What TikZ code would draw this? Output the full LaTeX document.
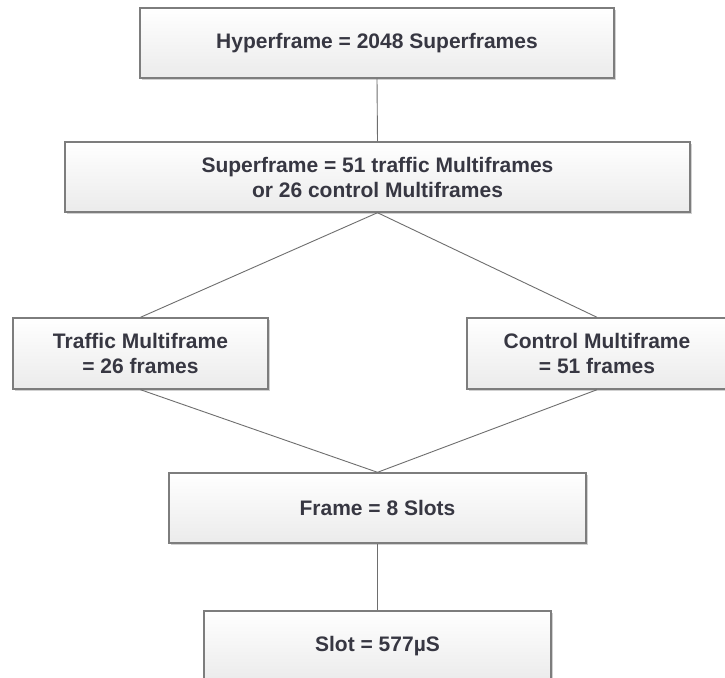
\documentclass[tikz,border=0pt]{standalone}
\usepackage{fontspec}
\setmainfont{Liberation Sans}
\usetikzlibrary{shadows}
\definecolor{boxedge}{HTML}{7D7D7D}
\definecolor{boxtext}{HTML}{373742}
\definecolor{linkcol}{HTML}{6E6E6E}
\definecolor{boxlow}{HTML}{EBEBEB}
\tikzset{
  framebox/.style={draw=boxedge, line width=1.4pt, rectangle,
    top color=white, bottom color=boxlow,
    drop shadow={opacity=0.18, shadow xshift=2pt, shadow yshift=-2pt, fill=black},
    text=boxtext, align=center, inner sep=0pt,
    font=\bfseries\fontsize{21}{25}\selectfont},
  link/.style={draw=linkcol, line width=0.9pt}
}
\begin{document}
\begin{tikzpicture}[x=1pt, y=-1pt]
  \clip (0,0) rectangle (725,677);
  \fill[white] (0,0) rectangle (725,677);
  % hierarchy of GSM frame units
  \node[framebox, minimum width=474pt, minimum height=70pt] (hyper) at (377,43) {Hyperframe = 2048 Superframes};
  \node[framebox, minimum width=625pt, minimum height=70pt] (super) at (377.5,177) {Superframe = 51 traffic Multiframes\\or 26 control Multiframes};
  \node[framebox, minimum width=255pt, minimum height=71pt] (traffic) at (140.5,353.5) {Traffic Multiframe\\= 26 frames};
  \node[framebox, minimum width=260pt, minimum height=71pt] (control) at (597,353.5) {Control Multiframe\\= 51 frames};
  \node[framebox, minimum width=417pt, minimum height=70pt] (frame) at (377.5,508) {Frame = 8 Slots};
  \node[framebox, minimum width=347pt, minimum height=70pt] (slot) at (377.5,646) {Slot = 577µS};
  % connectors
  \draw[link] (hyper.south) -- (super.north);
  \draw[link] (super.south) -- (traffic.north);
  \draw[link] (super.south) -- (control.north);
  \draw[link] (traffic.south) -- (frame.north);
  \draw[link] (control.south) -- (frame.north);
  \draw[link] (frame.south) -- (slot.north);
\end{tikzpicture}
\end{document}
